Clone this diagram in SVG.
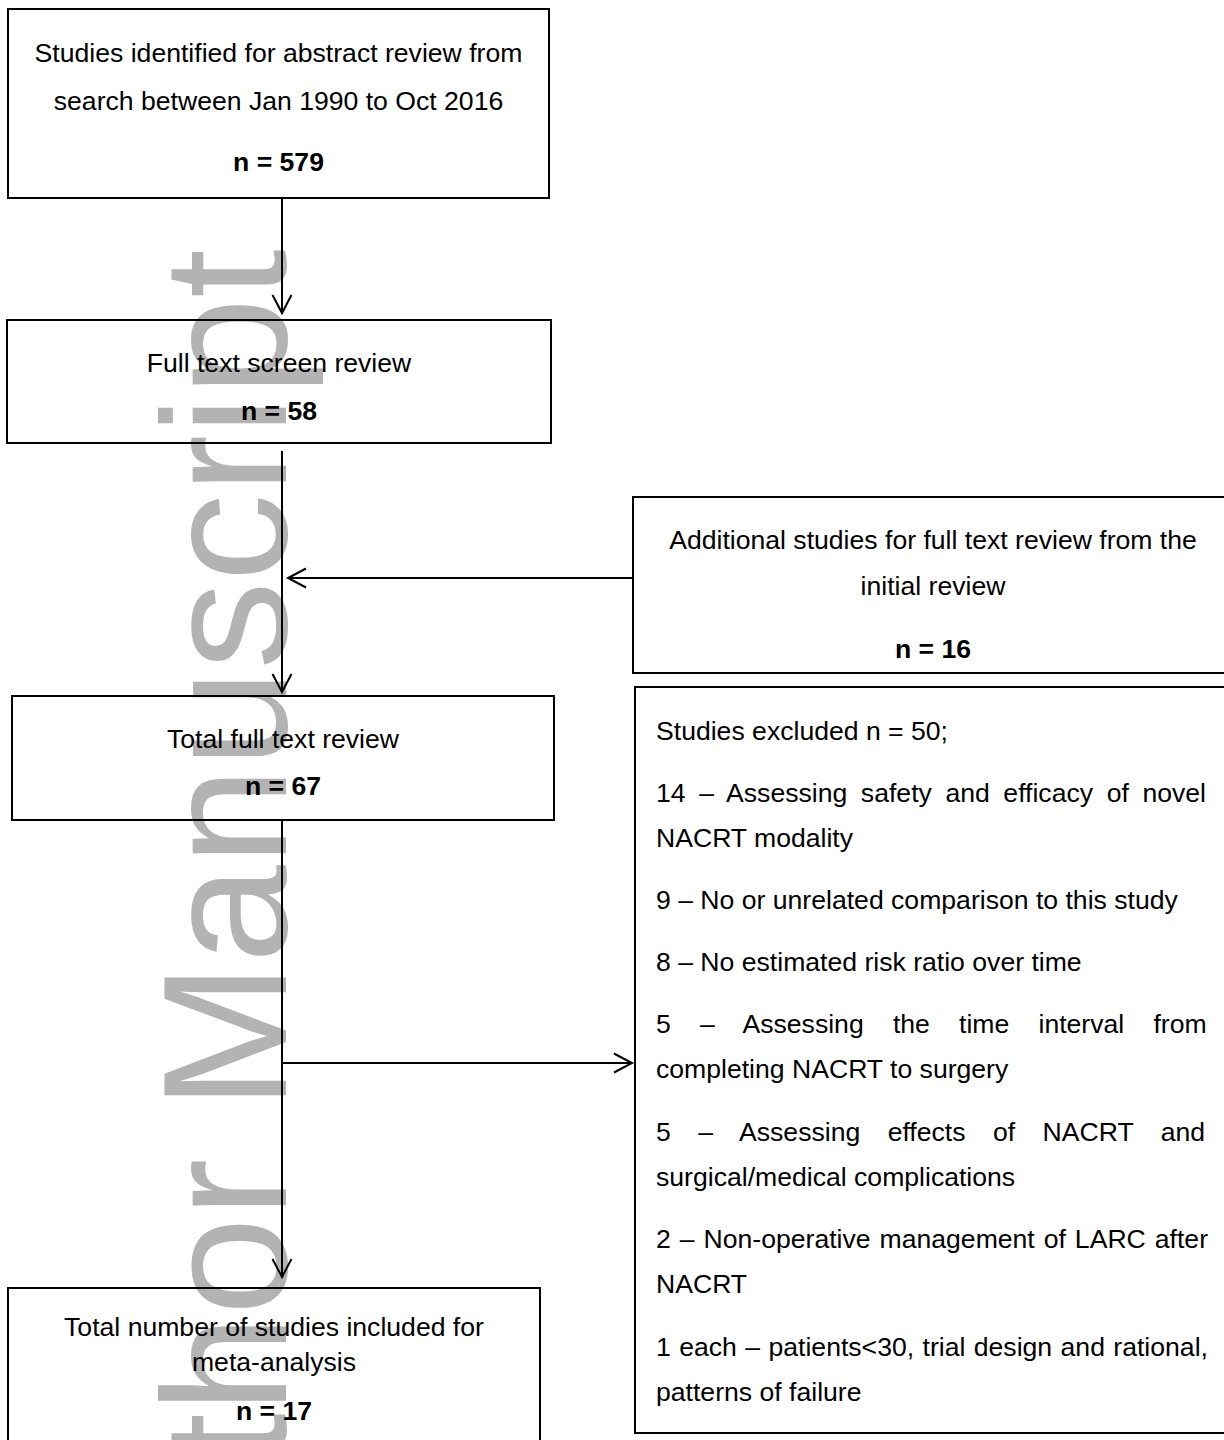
<svg xmlns="http://www.w3.org/2000/svg" width="1224" height="1440" viewBox="0 0 1224 1440">
<style>
  .box { fill: none; stroke: #000; stroke-width: 2; }
  .t { font-family: "Liberation Sans", Arial, sans-serif; font-size: 26.6px; fill: #000; }
  .c { text-anchor: middle; }
  .b { font-weight: bold; }
  .conn { fill: none; stroke: #000; stroke-width: 2; }
  .wm { font-family: "Liberation Sans", Arial, sans-serif; font-size: 176px; fill: #b3b3b3; }
</style>
<defs>
  <marker id="arr" markerUnits="userSpaceOnUse" markerWidth="40" markerHeight="40" refX="0" refY="0" orient="auto" overflow="visible">
    <path d="M -18 -9.5 L 0 0 L -18 9.5" fill="none" stroke="#000" stroke-width="2"/>
  </marker>
</defs>
<rect width="1224" height="1440" fill="#fff"/>
<text class="wm" transform="translate(286,249) rotate(-90)" text-anchor="end">Author Manuscript</text>

<g id="node-identified">
  <rect class="box" x="8" y="9" width="541" height="189"/>
  <text class="t c" x="278.5" y="61.5">Studies identified for abstract review from</text>
  <text class="t c" x="278.5" y="109.5">search between Jan 1990 to Oct 2016</text>
  <text class="t c b" x="278.5" y="170.5">n = 579</text>
</g>

<g id="node-fulltext-screen">
  <rect class="box" x="7" y="320" width="544" height="123"/>
  <text class="t c" x="279" y="371.5">Full text screen review</text>
  <text class="t c b" x="279" y="419.5">n = 58</text>
</g>

<g id="node-additional">
  <rect class="box" x="633" y="497" width="600" height="176"/>
  <text class="t c" x="933" y="548.5">Additional studies for full text review from the</text>
  <text class="t c" x="933" y="594.5">initial review</text>
  <text class="t c b" x="933" y="657.5">n = 16</text>
</g>

<g id="node-total-fulltext">
  <rect class="box" x="12" y="696" width="542" height="124"/>
  <text class="t c" x="283" y="747.5">Total full text review</text>
  <text class="t c b" x="283" y="794.5">n = 67</text>
</g>

<g id="node-excluded">
  <rect class="box" x="635" y="687" width="600" height="746"/>
  <text class="t" x="656" y="739.5">Studies excluded n = 50;</text>
  <text class="t" x="656" y="801.5" word-spacing="6.2">14 – Assessing safety and efficacy of novel</text>
  <text class="t" x="656" y="846.5">NACRT modality</text>
  <text class="t" x="656" y="909">9 – No or unrelated comparison to this study</text>
  <text class="t" x="656" y="971">8 – No estimated risk ratio over time</text>
  <text class="t" x="656" y="1033" word-spacing="21.8">5 – Assessing the time interval from</text>
  <text class="t" x="656" y="1078">completing NACRT to surgery</text>
  <text class="t" x="656" y="1140.5" word-spacing="20.06">5 – Assessing effects of NACRT and</text>
  <text class="t" x="656" y="1185.5">surgical/medical complications</text>
  <text class="t" x="656" y="1248" word-spacing="1.58">2 – Non-operative management of LARC after</text>
  <text class="t" x="656" y="1293">NACRT</text>
  <text class="t" x="656" y="1355.5" word-spacing="1.02">1 each – patients&lt;30, trial design and rational,</text>
  <text class="t" x="656" y="1400.5">patterns of failure</text>
</g>

<g id="node-included">
  <rect class="box" x="8" y="1288" width="532" height="170"/>
  <text class="t c" x="274" y="1335.5">Total number of studies included for</text>
  <text class="t c" x="274" y="1370.5">meta-analysis</text>
  <text class="t c b" x="274" y="1419.5">n = 17</text>
</g>

<g id="connectors">
  <line class="conn" x1="282" y1="198" x2="282" y2="313" marker-end="url(#arr)"/>
  <line class="conn" x1="282" y1="451" x2="282" y2="692" marker-end="url(#arr)"/>
  <line class="conn" x1="633" y1="578" x2="288" y2="578" marker-end="url(#arr)"/>
  <line class="conn" x1="282" y1="820" x2="282" y2="1277" marker-end="url(#arr)"/>
  <line class="conn" x1="282" y1="1063" x2="632" y2="1063" marker-end="url(#arr)"/>
</g>
</svg>
